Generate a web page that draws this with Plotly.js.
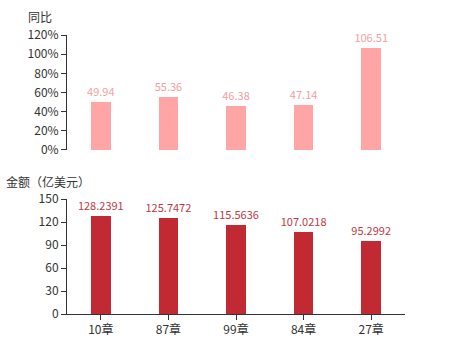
<!DOCTYPE html>
<html><head><meta charset="utf-8">
<script src="https://cdn.plot.ly/plotly-3.0.1.min.js"></script>
<style>html,body{margin:0;padding:0;background:#fff}#c{width:450px;height:350px}</style>
</head><body><div id="c"></div>
<script>
var categories = ['10章', '87章', '99章', '84章', '27章'];
var yoyPct = [49.94, 55.36, 46.38, 47.14, 106.51];
var amount = [128.2391, 125.7472, 115.5636, 107.0218, 95.2992];
var yoyTicks = [0, 20, 40, 60, 80, 100, 120];
var amountTicks = [0, 30, 60, 90, 120, 150];

var font = 'Noto Sans CJK SC, Noto Sans, sans-serif';
var traces = [
  {type:'bar', x:categories, y:yoyPct, xaxis:'x', yaxis:'y',
   marker:{color:'#ffa5a6'}, width:0.29,
   text:yoyPct.map(function(v){return v.toFixed(2);}), textposition:'outside', constraintext:'none',
   textfont:{color:'#f2a0a0', size:11, family:font}, cliponaxis:false, hoverinfo:'none'},
  {type:'bar', x:categories, y:amount, xaxis:'x2', yaxis:'y2',
   marker:{color:'#c12a33'}, width:0.29,
   text:amount.map(String), textposition:'outside', constraintext:'none',
   textfont:{color:'#c0393f', size:11, family:font}, cliponaxis:false, hoverinfo:'none'}
];
var layout = {
  width:450, height:350, showlegend:false,
  margin:{l:67, r:45, t:35, b:36},
  paper_bgcolor:'#fff', plot_bgcolor:'#fff',
  font:{family:font, color:'#333', size:12},
  bargap:0,
  xaxis:{domain:[0,1], anchor:'y', showticklabels:false, showline:false, ticks:'', showgrid:false, zeroline:false},
  yaxis:{domain:[0.588,1], anchor:'x', range:[0,120], tickvals:yoyTicks,
         ticktext:yoyTicks.map(function(v){return v+'%';}),
         showline:true, linecolor:'#333', linewidth:1, ticks:'outside', ticklen:5, tickcolor:'#333',
         showgrid:false, zeroline:false, tickfont:{size:12, color:'#333'}},
  xaxis2:{domain:[0,1], anchor:'y2', showline:true, linecolor:'#333', linewidth:1,
          ticks:'outside', ticklen:5, tickcolor:'#333', showgrid:false, zeroline:false,
          tickfont:{size:12, color:'#333'}},
  yaxis2:{domain:[0,0.412], anchor:'x2', range:[0,150], tickvals:amountTicks,
          showline:true, linecolor:'#333', linewidth:1, ticks:'outside', ticklen:5, tickcolor:'#333',
          showgrid:false, zeroline:false, tickfont:{size:12, color:'#333'}},
  annotations:[
    {text:'同比', xref:'paper', yref:'paper', x:-0.08, y:1.065, xanchor:'center', yanchor:'middle',
     showarrow:false, font:{size:12, color:'#333'}},
    {text:'金额（亿美元）', xref:'paper', yref:'paper', x:-0.055, y:0.475, xanchor:'center', yanchor:'middle',
     showarrow:false, font:{size:12, color:'#333'}}
  ]
};
Plotly.newPlot('c', traces, layout, {staticPlot:true, displayModeBar:false});
</script></body></html>
